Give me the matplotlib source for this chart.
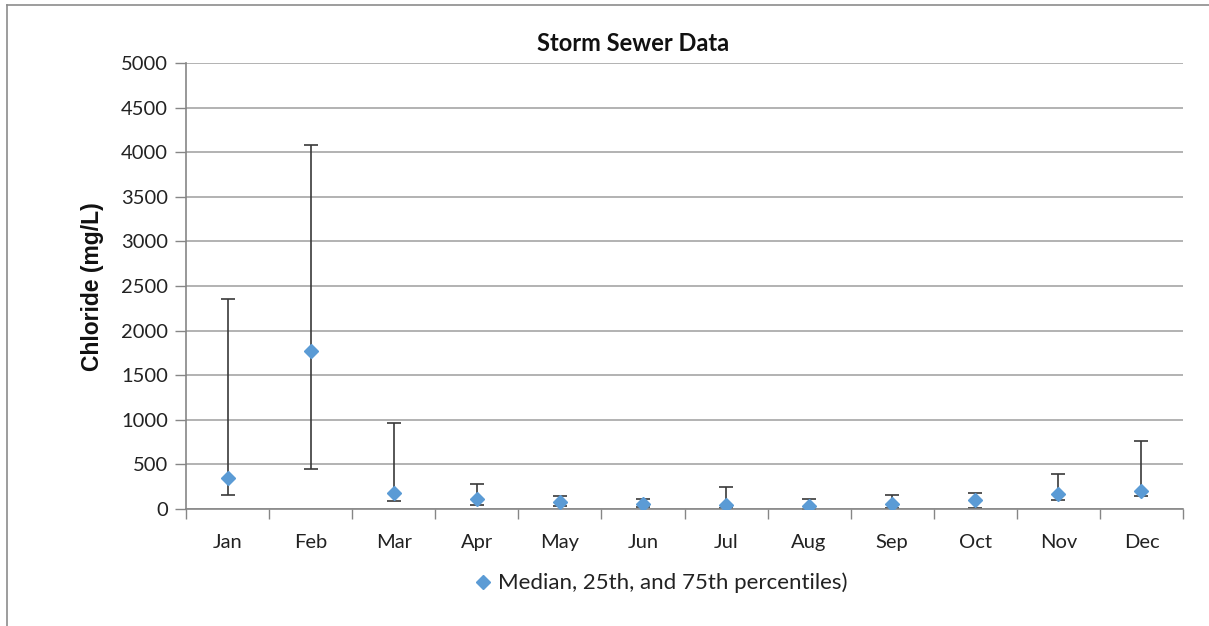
import numpy as np
import matplotlib.pyplot as plt
from matplotlib.lines import Line2D

months = ["Jan", "Feb", "Mar", "Apr", "May", "Jun", "Jul", "Aug", "Sep", "Oct", "Nov", "Dec"]
median = [343, 1775, 175, 115, 74, 60, 48, 37, 52, 104, 164, 205]
p25 = [152, 452, 90, 48, 29, 22, 7, 5, 7, 11, 101, 141]
p75 = [2357, 4084, 967, 280, 141, 115, 242, 115, 152, 175, 396, 758]

plt.rcParams['font.family'] = ['Lato', 'DejaVu Sans']

fig = plt.figure(figsize=(12.09, 6.26), dpi=100)
ax = fig.add_axes([186 / 1209, 1 - 509 / 626, (1183 - 186) / 1209, (509 - 63) / 626])

x = np.arange(len(months))
med = np.array(median)
lo = med - np.array(p25)
hi = np.array(p75) - med

ax.errorbar(x, med, yerr=[lo, hi], fmt='none', ecolor='#3a3a3a', elinewidth=1.2,
            capsize=4.7, capthick=1.2, zorder=2)
ax.plot(x, med, 'D', color='#5B9BD5', markersize=7.5, linestyle='none', zorder=3)

ax.set_xlim(-0.5, 11.5)
ax.set_ylim(0, 5000)
ax.set_yticks(np.arange(0, 5001, 500))
ax.set_xticks(x)
ax.set_xticklabels(months)
ax.set_xticks(np.arange(-0.5, 12, 1), minor=True)
ax.tick_params(axis='x', which='major', length=0, pad=18, labelsize=14.5, colors='#222222')
ax.tick_params(axis='x', which='minor', length=7, width=1, color='#868686', direction='out')
ax.tick_params(axis='y', length=8, width=1, color='#868686', labelsize=14.5, labelcolor='#222222', pad=5)

ax.grid(axis='y', color='#A6A6A6', linewidth=1.2)
ax.set_axisbelow(True)
for s in ['top', 'right']:
    ax.spines[s].set_visible(False)
for s in ['left', 'bottom']:
    ax.spines[s].set_color('#868686')
    ax.spines[s].set_linewidth(1.2)

# title and y label placed where they sit in the original
fig.text(633 / 1209, 1 - 51 / 626, "Storm Sewer Data", fontsize=17, fontweight='bold',
         ha='center', va='baseline', color='#111111')
fig.text(93 / 1209, 1 - 287 / 626, "Chloride (mg/L)", fontsize=16.5, fontweight='bold',
         family='Liberation Sans', rotation=90, ha='center', va='center', color='#111111')

handle = Line2D([], [], marker='D', color='#5B9BD5', linestyle='none', markersize=7)
fig.legend([handle], ["Median, 25th, and 75th percentiles)"], loc='center left',
           bbox_to_anchor=(474 / 1209, 1 - 583 / 626), frameon=False, fontsize=16,
           handletextpad=0.3, handlelength=0.8, borderpad=0, borderaxespad=0,
           labelcolor='#222222')

# chart frame (cropped on right and bottom)
fig.add_artist(Line2D([7 / 1209, 1], [1 - 5 / 626, 1 - 5 / 626], color='#8c8c8c', linewidth=1.2))
fig.add_artist(Line2D([7 / 1209, 7 / 1209], [0, 1 - 5 / 626], color='#8c8c8c', linewidth=1.2))

fig.savefig("out.png", dpi=100)
